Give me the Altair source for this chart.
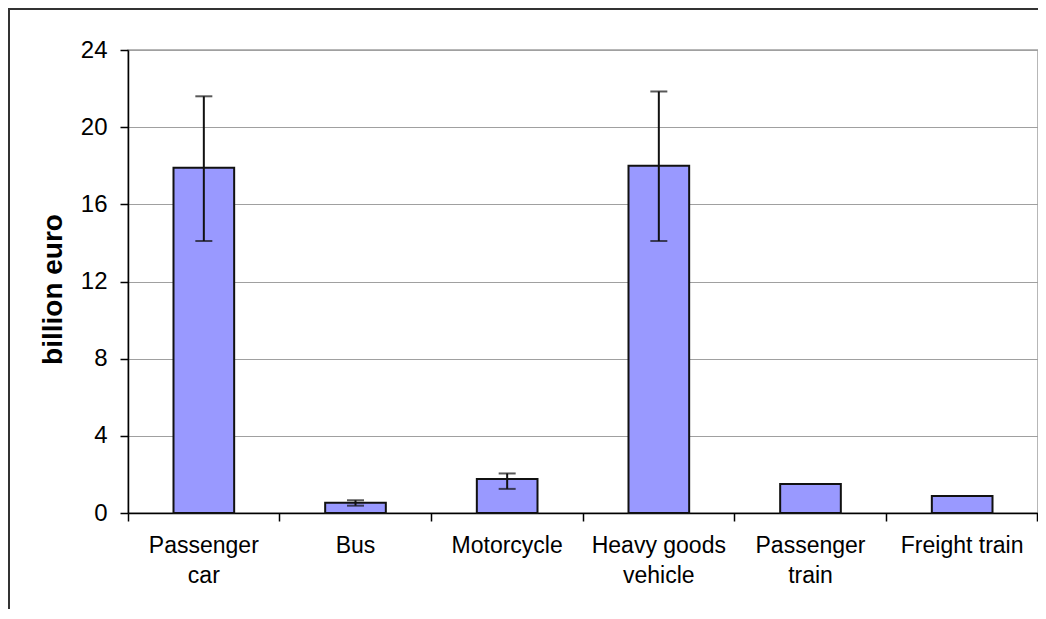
import altair as alt
import pandas as pd

categories = ["Passenger|car", "Bus", "Motorcycle", "Heavy goods|vehicle", "Passenger|train", "Freight train"]
values = [17.9, 0.53, 1.76, 18.0, 1.5, 0.88]
err_low = [14.1, 0.38, 1.25, 14.1, None, None]
err_high = [21.6, 0.66, 2.05, 21.85, None, None]
y_ticks = [0, 4, 8, 12, 16, 20, 24]

W, H = 910, 463
PAD_L, PAD_T, PAD_R, PAD_B = 120, 42, 0, 96

df = pd.DataFrame({"cat": categories, "value": values, "lo": err_low, "hi": err_high})
df_err = df.dropna()

xscale = alt.Scale(domain=categories, paddingInner=0, paddingOuter=0)
xaxis = alt.Axis(
    title=None, labelAngle=0, bandPosition=1, tickExtra=True,
    labelExpr="split(datum.label, '|')", labelFont="Liberation Sans",
    labelFontSize=23, labelColor="#000000", labelLineHeight=30,
    labelPadding=13, tickSize=8, tickColor="#000000", tickWidth=1.5,
    domainColor="#000000", domainWidth=1.5, grid=False,
)
yaxis = alt.Axis(
    title="billion euro", values=y_ticks, grid=True, gridColor="#a0a0a0",
    gridWidth=1.2, labelFont="Liberation Sans", labelFontSize=24,
    labelColor="#000000", labelPadding=13, tickSize=8, tickColor="#000000",
    tickWidth=1.5, domainColor="#000000", domainWidth=1.5,
    titleFont="Liberation Sans", titleFontSize=28, titleFontWeight="bold",
    titleColor="#000000", titleAngle=-90, titleX=-75, titleY=239,
    titleAlign="center", titleBaseline="middle",
)
yscale = alt.Scale(domain=[0, 24], nice=False)

bars = alt.Chart(df).mark_bar(
    width=alt.RelativeBandSize(0.4), color="#9999ff", stroke="#111111", strokeWidth=2
).encode(
    x=alt.X("cat:N", scale=xscale, axis=xaxis, sort=categories),
    y=alt.Y("value:Q", scale=yscale, axis=yaxis),
)

rules = alt.Chart(df_err).mark_rule(color="#111111", strokeWidth=2).encode(
    x=alt.X("cat:N", sort=categories),
    y="lo:Q",
    y2="hi:Q",
)
caps_lo = alt.Chart(df_err).mark_tick(color="#111111", size=17, thickness=2).encode(
    x=alt.X("cat:N", sort=categories), y="lo:Q"
)
caps_hi = alt.Chart(df_err).mark_tick(color="#111111", size=17, thickness=2).encode(
    x=alt.X("cat:N", sort=categories), y="hi:Q"
)

frame_df = pd.DataFrame({"a": [0]})
frame_left = alt.Chart(frame_df).mark_rule(color="#333333", strokeWidth=2).encode(
    x=alt.value(-PAD_L + 1), y=alt.value(-PAD_T), y2=alt.value(H + PAD_B)
)
frame_top = alt.Chart(frame_df).mark_rule(color="#333333", strokeWidth=2).encode(
    x=alt.value(-PAD_L), x2=alt.value(W + PAD_R), y=alt.value(-PAD_T + 1)
)

chart = alt.layer(bars, rules, caps_lo, caps_hi, frame_left, frame_top).properties(
    width=W, height=H,
    autosize=alt.AutoSizeParams(type="none"),
    padding={"left": PAD_L, "top": PAD_T, "right": PAD_R, "bottom": PAD_B},
    background="#ffffff",
).configure_view(stroke="#a0a0a0", strokeWidth=1.5)

chart.save("out.html", embed_options={"renderer": "svg", "actions": False})
